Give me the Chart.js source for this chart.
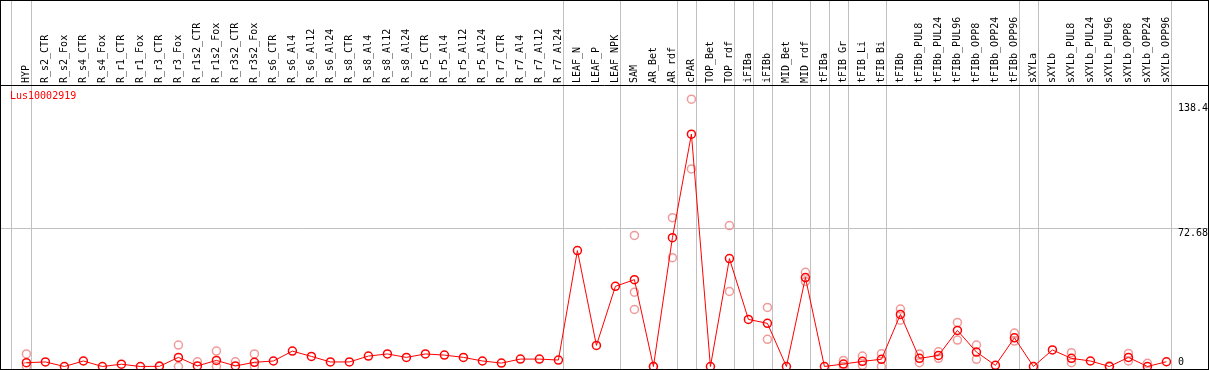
<!DOCTYPE html>
<html>
<head>
<meta charset="utf-8">
<script src="https://cdn.jsdelivr.net/npm/chart.js@4.4.1/dist/chart.umd.min.js"></script>
<style>
  html, body { margin: 0; padding: 0; background: #fff; }
</style>
</head>
<body>
<canvas id="c" width="1209" height="370"></canvas>
<script>
const geneId = 'Lus10002919';

const samples = [
  'HYP', 'R_s2_CTR', 'R_s2_Fox', 'R_s4_CTR', 'R_s4_Fox', 'R_r1_CTR', 'R_r1_Fox',
  'R_r3_CTR', 'R_r3_Fox', 'R_r1s2_CTR', 'R_r1s2_Fox', 'R_r3s2_CTR', 'R_r3s2_Fox',
  'R_s6_CTR', 'R_s6_Al4', 'R_s6_Al12', 'R_s6_Al24', 'R_s8_CTR', 'R_s8_Al4', 'R_s8_Al12',
  'R_s8_Al24', 'R_r5_CTR', 'R_r5_Al4', 'R_r5_Al12', 'R_r5_Al24', 'R_r7_CTR', 'R_r7_Al4',
  'R_r7_Al12', 'R_r7_Al24', 'LEAF_N', 'LEAF_P', 'LEAF_NPK', 'SAM', 'AR_Bet', 'AR_rdf',
  'cPAR', 'TOP_Bet', 'TOP_rdf', 'iFIBa', 'iFIBb', 'MID_Bet', 'MID_rdf', 'tFIBa',
  'tFIB_Gr', 'tFIB_Li', 'tFIB_Bi', 'tFIBb', 'tFIBb_PUL8', 'tFIBb_PUL24', 'tFIBb_PUL96',
  'tFIBb_OPP8', 'tFIBb_OPP24', 'tFIBb_OPP96', 'sXYLa', 'sXYLb', 'sXYLb_PUL8',
  'sXYLb_PUL24', 'sXYLb_PUL96', 'sXYLb_OPP8', 'sXYLb_OPP24', 'sXYLb_OPP96'
];

// mean expression per sample
const means = [
  2.0, 2.4, 0, 2.9, 0, 1.2, 0, 0.1, 4.8, 0.3, 3.2, 0.3, 2.2,
  2.9, 8.1, 5.3, 2.4, 2.4, 5.5, 6.6, 4.8, 6.6, 6.0, 4.8, 2.9, 1.8, 3.9, 3.9, 3.4,
  61.0, 11.1, 42.2, 45.7, 0, 67.8, 122.3, 0, 56.8, 24.8, 22.7, 0, 46.8, 0,
  1.3, 2.7, 3.8, 27.4, 4.3, 5.8, 19.0, 7.6, 0.6, 15.1,
  0, 8.7, 4.3, 2.9, 0, 4.8, 0, 2.5
];

// individual replicates (only the ones that show apart from the mean)
const replicates = [
  [6.6, 0], [], [], [], [], [], [], [0.4], [11.3, 0], [2.5], [8.1, 0], [2.5], [6.6, 0],
  [], [], [], [], [], [], [], [], [], [], [], [], [], [], [], [],
  [], [], [], [69.0, 39.1, 30.0], [0], [78.3, 57.3], [140.7, 104.0], [], [74.2, 39.5],
  [], [31.1, 14.3], [], [49.6, 44.7], [],
  [3.2, 0], [5.5, 0.6], [6.7, 0], [30.2, 24.4], [6.6, 2.0], [7.7, 4.3], [23.2, 13.9],
  [11.3, 3.8], [], [17.6, 13.4],
  [], [], [7.3, 2.0], [], [0.3], [6.9, 2.9], [1.7], []
];

// last sample index of each group (a separator is drawn after it)
const groupEnds = [0, 28, 31, 34, 35, 37, 38, 39, 41, 42, 43, 45, 52, 53, 60];

const yTickValues = [0, 72.68, 138.4];

const X_MIN = -1.3895, X_MAX = 62.24;
const Y_MIN = -1.316, Y_MAX = 148.16;
const FONT = 'DejaVu Sans Mono';

const meanPts = means.map((v, i) => ({ x: i, y: v }));
const repPts = [];
replicates.forEach((reps, i) => reps.forEach(v => repPts.push({ x: i, y: v })));

const decor = {
  id: 'decor',
  beforeDraw(chart) {
    const { ctx, width, height } = chart;
    ctx.save();
    ctx.fillStyle = '#fff';
    ctx.fillRect(0, 0, width, height);
    ctx.restore();
  },
  beforeDatasetsDraw(chart) {
    const { ctx, chartArea, scales: { x } } = chart;
    ctx.save();
    ctx.strokeStyle = '#c0c0c0';
    ctx.lineWidth = 1;
    const lines = [-0.83].concat(groupEnds.map(i => i + 0.226));
    lines.forEach(v => {
      const px = Math.round(x.getPixelForValue(v)) + 0.5;
      ctx.beginPath();
      ctx.moveTo(px, 0);
      ctx.lineTo(px, chartArea.bottom);
      ctx.stroke();
    });
    ctx.restore();
  },
  afterDraw(chart) {
    const { ctx, chartArea, width, height, scales: { y } } = chart;
    ctx.save();
    ctx.strokeStyle = '#000';
    ctx.lineWidth = 1;
    ctx.strokeRect(0.5, 0.5, width - 1, height - 1);
    ctx.beginPath();
    ctx.moveTo(0, chartArea.top + 0.5);
    ctx.lineTo(width, chartArea.top + 0.5);
    ctx.stroke();

    ctx.font = '10px "' + FONT + '"';
    ctx.fillStyle = '#000';
    ctx.textAlign = 'left';
    yTickValues.forEach(v => {
      const py = y.getPixelForValue(v);
      if (py + 10 > chartArea.bottom) {
        ctx.textBaseline = 'bottom';
        ctx.fillText(String(v), 1178, py + 1);
      } else {
        ctx.textBaseline = 'top';
        ctx.fillText(String(v), 1178, py);
      }
    });

    ctx.fillStyle = '#ff0000';
    ctx.textBaseline = 'middle';
    ctx.fillText(geneId, 10, chartArea.top + 11);
    ctx.restore();
  }
};

new Chart(document.getElementById('c'), {
  type: 'line',
  data: {
    datasets: [
      {
        data: meanPts,
        borderColor: '#ff0000',
        borderWidth: 1,
        tension: 0,
        pointRadius: 4,
        pointBorderWidth: 1.5,
        pointBorderColor: '#ff0000',
        pointBackgroundColor: 'rgba(0,0,0,0)',
        clip: false
      },
      {
        data: repPts,
        showLine: false,
        pointRadius: 4,
        pointBorderWidth: 1.5,
        pointBorderColor: '#f09a9a',
        pointBackgroundColor: 'rgba(0,0,0,0)',
        clip: false
      }
    ]
  },
  options: {
    responsive: false,
    animation: false,
    layout: { autoPadding: false, padding: { left: 0, right: 0, top: 0, bottom: 1 } },
    plugins: { legend: { display: false }, tooltip: { enabled: false } },
    scales: {
      x: { type: 'linear', display: false, min: X_MIN, max: X_MAX },
      xTop: {
        type: 'linear',
        position: 'top',
        min: X_MIN,
        max: X_MAX,
        afterBuildTicks: s => { s.ticks = samples.map((_, i) => ({ value: i })); },
        afterFit: s => {
          s.height = 85;
          s.paddingLeft = 0;
          s.paddingRight = 0;
        },
        grid: { display: false, drawTicks: false },
        border: { display: false },
        ticks: {
          autoSkip: false,
          minRotation: 90,
          maxRotation: 90,
          padding: 2,
          labelOffset: 12,
          color: '#000',
          font: { family: FONT, size: 10 },
          callback: v => samples[v]
        }
      },
      y: {
        min: Y_MIN,
        max: Y_MAX,
        afterBuildTicks: s => { s.ticks = [{ value: 72.68 }]; },
        afterFit: s => { s.width = 0; },
        ticks: { display: false },
        grid: { color: '#c0c0c0', drawTicks: false },
        border: { display: false }
      }
    }
  },
  plugins: [decor]
});
</script>
</body>
</html>
